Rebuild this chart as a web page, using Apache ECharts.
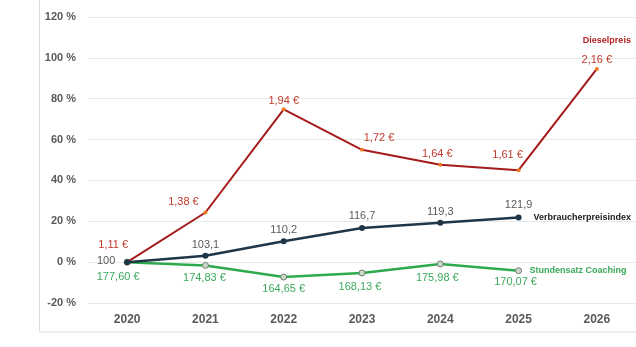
<!DOCTYPE html>
<html>
<head>
<meta charset="utf-8">
<script src="https://cdn.jsdelivr.net/npm/echarts@6/dist/echarts.min.js"></script>
<style>html,body{margin:0;padding:0;background:#fff}#c{width:636px;height:347px}</style>
</head>
<body>
<div id="c"></div>
<script>
const years = ['2020','2021','2022','2023','2024','2025','2026'];
const yTicks = [-20, 0, 20, 40, 60, 80, 100, 120];

const dieselPct = [0, 24.3, 74.8, 55.0, 47.7, 45.0, 94.6];
const dieselLabels = ['1,11 €','1,38 €','1,94 €','1,72 €','1,64 €','1,61 €','2,16 €'];

const vpiPct = [0, 3.1, 10.2, 16.7, 19.3, 21.9];
const vpiLabels = ['100','103,1','110,2','116,7','119,3','121,9'];

const coachPct = [0, -1.6, -7.3, -5.3, -0.9, -4.2];
const coachLabels = ['177,60 €','174,83 €','164,65 €','168,13 €','175,98 €','170,07 €'];

const seriesNames = ['Dieselpreis','Verbraucherpreisindex','Stundensatz Coaching'];

// label placement (layout config, offsets from the point centre)
const dieselOff = [[-14,-17],[-22,-11],[0,-8],[17,-12],[-3,-11],[-11,-15],[0,-9]];
const vpiOff = [[-21,-1],[0,-11],[0,-11],[0,-12],[0,-11],[0,-12]];
const coachOff = [[-9,15],[-1,13],[0,12],[-2,14],[-3,14],[-3,11]];

function items(vals, labels, offs){
  return vals.map((v,i)=>({value:v, label:{formatter:labels[i], offset:offs[i]}}));
}

const FF = 'Liberation Sans, Arial, sans-serif';
const chart = echarts.init(document.getElementById('c'), null, {renderer:'canvas'});
const lblFont = {fontFamily:FF, fontSize:11};
chart.setOption({
  animation:false,
  backgroundColor:'#fff',
  grid:{left:88, right:0, top:17, bottom:44, containLabel:false},
  graphic:[{type:'rect', shape:{x:39.5, y:-5, width:700, height:337}, style:{fill:'none', stroke:'#dcdcdc', lineWidth:1}, silent:true, z:-10}],
  xAxis:{
    type:'category', data:years, boundaryGap:true,
    axisLine:{show:false}, axisTick:{show:false},
    axisLabel:{color:'#595959', fontWeight:'bold', fontSize:12, margin:11, fontFamily:FF}
  },
  yAxis:{
    type:'value', min:yTicks[0], max:yTicks[yTicks.length-1], interval:20,
    axisLine:{show:false}, axisTick:{show:false},
    splitLine:{lineStyle:{color:'#e8e8e8', width:1}},
    axisLabel:{formatter:v=>v+' %', color:'#595959', fontWeight:'bold', fontSize:11, margin:12, fontFamily:FF}
  },
  series:[
    {
      name:seriesNames[0], type:'line', data:items(dieselPct, dieselLabels, dieselOff),
      lineStyle:{color:'#A51A1A', width:2}, itemStyle:{color:'#EE7B22', borderColor:'#EE7B22', borderWidth:0},
      symbol:'circle', symbolSize:4, showAllSymbol:true,
      label:{show:true, position:'inside', color:'#C0392B', ...lblFont},
      endLabel:{show:true, formatter:seriesNames[0], offset:[-22,-28], color:'#B22222', fontWeight:'bold', fontSize:9, fontFamily:FF},
      z:3
    },
    {
      name:seriesNames[1], type:'line', data:items(vpiPct, vpiLabels, vpiOff),
      lineStyle:{color:'#1F3649', width:2.5}, itemStyle:{color:'#1F3649'},
      symbol:'circle', symbolSize:6,
      label:{show:true, position:'inside', color:'#595959', ...lblFont},
      endLabel:{show:true, formatter:seriesNames[1], offset:[7,0], color:'#1a1a1a', fontWeight:'bold', fontSize:9, fontFamily:FF},
      z:4
    },
    {
      name:seriesNames[2], type:'line', data:items(coachPct, coachLabels, coachOff),
      lineStyle:{color:'#2EAA4E', width:2.5}, itemStyle:{color:'#c9d9c9', borderColor:'#6f7f6f', borderWidth:1},
      symbol:'circle', symbolSize:6,
      label:{show:true, position:'inside', color:'#3BAA5C', ...lblFont},
      endLabel:{show:true, formatter:seriesNames[2], offset:[3,0], color:'#3BAA5C', fontWeight:'bold', fontSize:9, fontFamily:FF},
      z:2
    }
  ]
});
</script>
</body>
</html>
